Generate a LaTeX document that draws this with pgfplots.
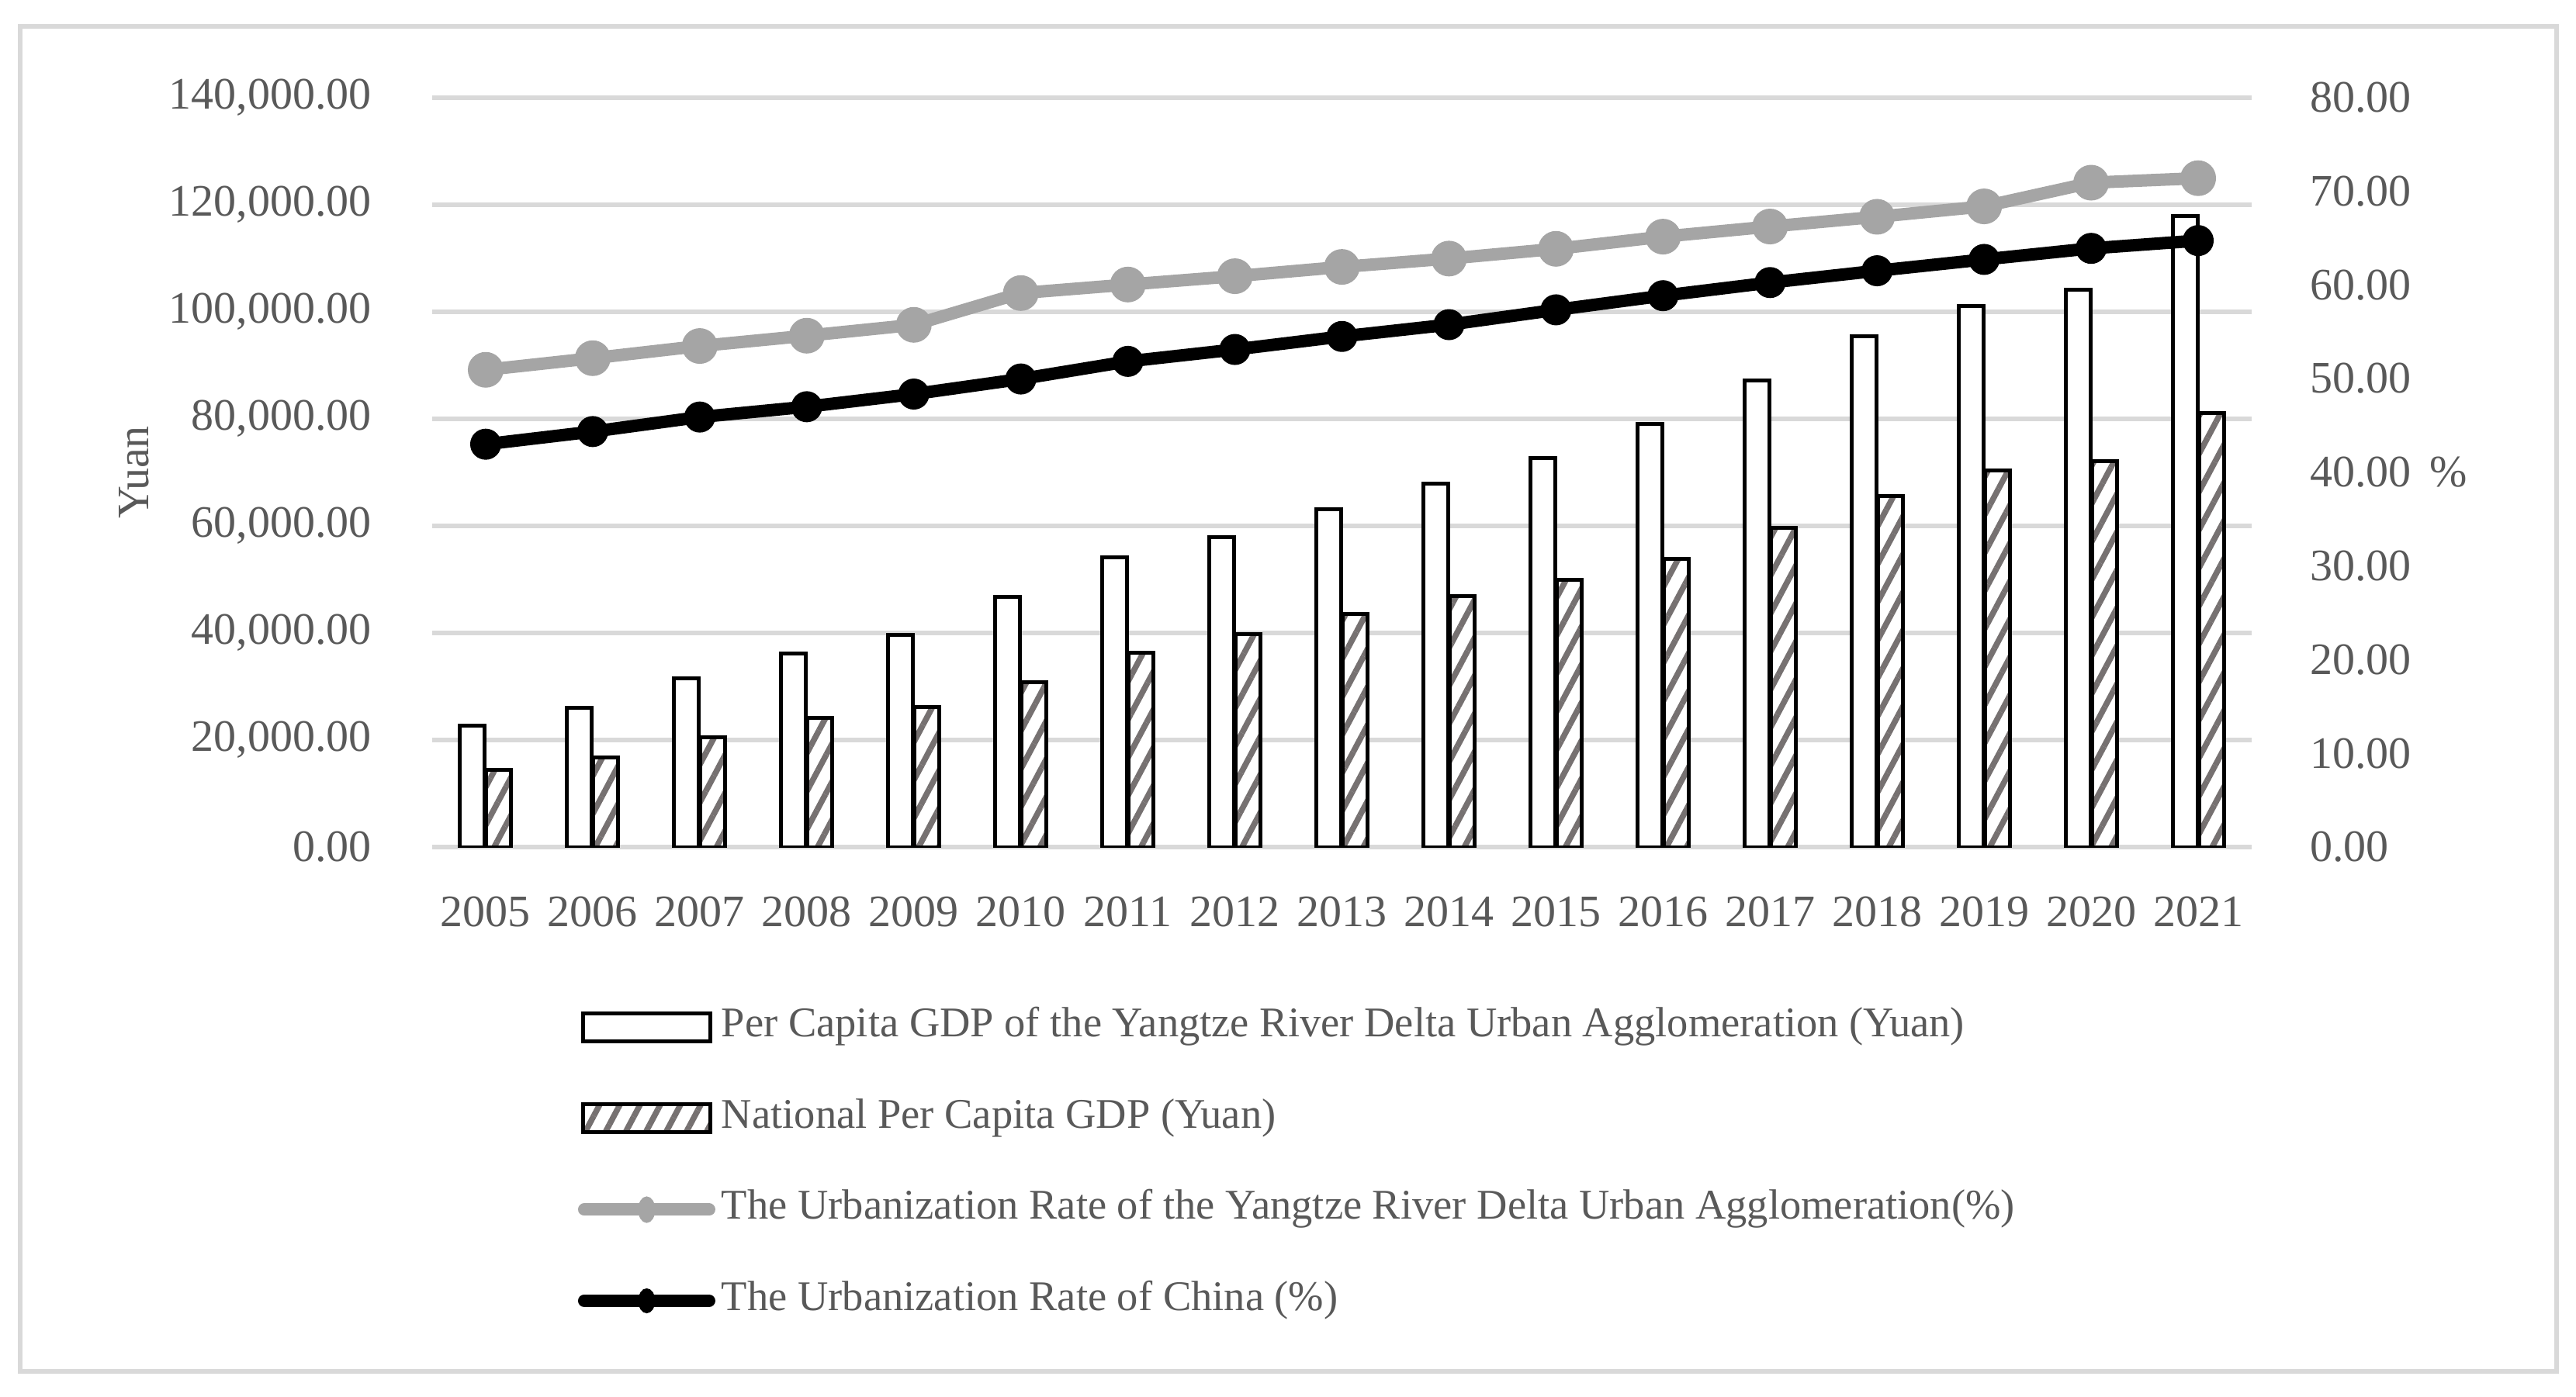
\documentclass[border=0pt]{standalone}
\usepackage{fontspec}
\setmainfont{Liberation Serif}
\usepackage{pgfplots}
\usepackage{pgfplotstable}
\pgfplotsset{compat=1.18}
\usetikzlibrary{patterns.meta}
\definecolor{gridgray}{HTML}{D9D9D9}
\definecolor{textgray}{HTML}{595959}
\definecolor{hatchgray}{HTML}{767171}
\definecolor{linegray}{HTML}{A5A5A5}

\pgfplotstableread{
x gdpyrd gdpcn urbyrd urbcn
0  22600  14368 50.93 42.99
1  26000  16738 52.17 44.34
2  31500  20494 53.47 45.89
3  36200  24100 54.57 46.99
4  39600  26180 55.73 48.34
5  46700  30808 59.12 49.95
6  54100  36277 60.03 51.83
7  57900  39771 60.92 53.10
8  63100  43497 61.91 54.49
9  67800  46912 62.80 55.75
10 72700  49922 63.84 57.33
11 79000  53783 65.14 58.84
12 87200  59592 66.22 60.24
13 95400  65534 67.26 61.50
14 101100 70328 68.37 62.71
15 104100 72000 70.90 63.89
16 117900 80976 71.38 64.72
}\datatable

\begin{document}
\begin{tikzpicture}
\useasboundingbox (0,0) rectangle (332pt,180pt);
\draw[gridgray, line width=0.6pt] (2.55pt,3.2pt) rectangle (329.5pt,176.6pt);
\pgfplotsset{common/.style={
  scale only axis, width=234.5pt, height=96.65pt,
  at={(55.7pt,70.8pt)}, anchor=south west,
  xmin=-0.5, xmax=16.5,
  /pgf/number format/assume math mode=true,
  tick style={draw=none},
  axis line style={draw=none},
  tick label style={font=\fontsize{5.8}{7}\selectfont, text=textgray},
}}
\begin{axis}[common,
  ymin=0, ymax=140000, ytick={0,20000,...,140000},
  scaled y ticks=false,
  yticklabel style={xshift=-4.3pt, /pgf/number format/.cd, fixed, fixed zerofill, precision=2, 1000 sep={,}},
  ymajorgrids, grid style={line width=0.6pt, gridgray},
  xtick={0,...,16},
  xticklabels={2005,2006,2007,2008,2009,2010,2011,2012,2013,2014,2015,2016,2017,2018,2019,2020,2021},
  xticklabel style={yshift=1.4pt},
  ybar=0.2pt, bar width=3.2pt,
  ylabel={Yuan},
  every axis y label/.style={at={(axis description cs:-0.1638,0.5)}, anchor=center, rotate=90,
    font=\fontsize{5.8}{7}\selectfont, text=textgray},
]
\addplot[draw=black, line width=0.5pt, fill=white] table[x=x,y=gdpyrd]{\datatable};
\addplot[draw=black, line width=0.5pt, preaction={fill=white}, pattern={Lines[angle=62,distance=2.3pt,line width=0.75pt]}, pattern color=hatchgray] table[x=x,y=gdpcn]{\datatable};
\end{axis}
\begin{axis}[common,
  ymin=0, ymax=80, ytick={0,10,...,80},
  axis y line*=right, axis x line=none,
  yticklabel style={xshift=4pt, /pgf/number format/.cd, fixed, fixed zerofill, precision=2},
  ylabel={\%},
  every axis y label/.style={at={(axis description cs:1.1083,0.5)}, anchor=center,
    font=\fontsize{5.8}{7}\selectfont, text=textgray},
  legend cell align=left,
  legend style={at={(0.0793,-0.2152)}, anchor=north west, draw=none, fill=none,
    inner sep=0pt, outer sep=0pt, row sep=6.85pt,
    font=\fontsize{5.45}{6}\selectfont, text=textgray,
    nodes={inner sep=0pt, text height=3.7pt, text depth=1.2pt},
    /tikz/column 1/.style={column sep=0.6pt}},
]
\addlegendimage{legend image code/.code={\path (0pt,0pt) (17.7pt,0pt); \draw[black, line width=0.5pt, fill=white] (0.7pt,-1.8pt) rectangle (17.1pt,1.8pt);}}
\addlegendentry{Per Capita GDP of the Yangtze River Delta Urban Agglomeration (Yuan)}
\addlegendimage{legend image code/.code={\path (0pt,0pt) (17.7pt,0pt); \draw[black, line width=0.5pt, preaction={fill=white}, pattern={Lines[angle=62,distance=2.3pt,line width=0.75pt]}, pattern color=hatchgray] (0.7pt,-1.8pt) rectangle (17.1pt,1.8pt);}}
\addlegendentry{National Per Capita GDP (Yuan)}
\addlegendimage{legend image code/.code={\path (0pt,0pt) (17.7pt,0pt); \draw[linegray, line width=1.6pt, line cap=round] (0.8pt,0pt) -- (16.9pt,0pt); \fill[linegray] (8.85pt,0pt) ellipse[x radius=0.9pt, y radius=1.5pt];}}
\addlegendentry{The Urbanization Rate of the Yangtze River Delta Urban Agglomeration(\%)}
\addlegendimage{legend image code/.code={\path (0pt,0pt) (17.7pt,0pt); \draw[black, line width=1.6pt, line cap=round] (0.8pt,0pt) -- (16.9pt,0pt); \fill[black] (8.85pt,0pt) ellipse[x radius=0.9pt, y radius=1.4pt];}}
\addlegendentry{The Urbanization Rate of China (\%)}
\addplot[forget plot, linegray, line width=1.6pt, line join=round, mark=*, mark size=2.2pt,
  mark options={solid, fill=linegray, draw=linegray, line width=0.2pt}]
  table[x=x,y=urbyrd]{\datatable};
\addplot[forget plot, black, line width=1.6pt, line join=round, mark=*, mark size=1.9pt,
  mark options={solid, fill=black, draw=black, line width=0.2pt}]
  table[x=x,y=urbcn]{\datatable};
\end{axis}
\end{tikzpicture}
\end{document}
